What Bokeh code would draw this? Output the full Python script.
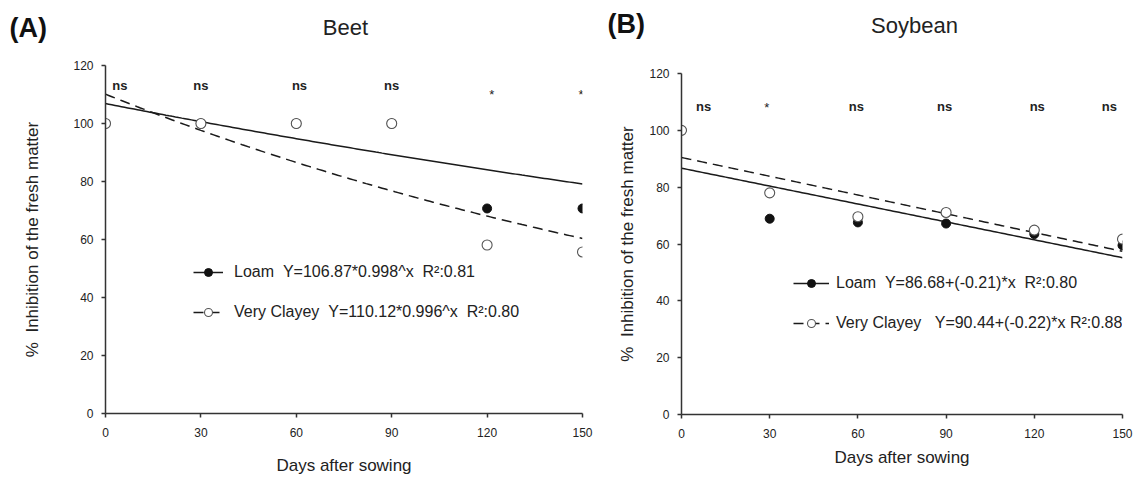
from bokeh.plotting import figure
from bokeh.layouts import row, column
from bokeh.models import Range1d, FixedTicker, Legend, LegendItem, ColumnDataSource, Spacer
from bokeh.core.properties import value
from bokeh.embed import file_html
from bokeh.resources import INLINE
import numpy as np

FONT = "Liberation Sans"
TXT = "#222222"

days = [0, 30, 60, 90, 120, 150]
x_ticks = [0, 30, 60, 90, 120, 150]
y_ticks = [0, 20, 40, 60, 80, 100, 120]

# Panel A - Beet
beet_loam = [100, 100, 100, 100, 70.7, 70.7]
beet_clay = [100, 100, 100, 100, 58.1, 55.7]
beet_loam_coef = [106.87, 0.998]   # Y = a * b^x
beet_clay_coef = [110.12, 0.996]
beet_sig = ["ns", "ns", "ns", "ns", "*", "*"]
beet_sig_x = [4.5, 30, 61, 90, 121.5, 149.5]

# Panel B - Soybean
soy_loam = [100, 68.9, 67.6, 67.2, 63.5, 59.5]
soy_clay = [100, 78.0, 69.6, 71.1, 64.9, 61.7]
soy_loam_coef = [86.68, -0.21]     # Y = a + b*x
soy_clay_coef = [90.44, -0.22]
soy_sig = ["ns", "*", "ns", "ns", "ns", "ns"]
soy_sig_x = [7.5, 29, 59.5, 89.5, 121, 145.5]

panel_titles = ["Beet", "Soybean"]
panel_letters = ["(A)", "(B)"]

xfit = np.linspace(0, 150, 151)


def make_panel(width, height, bl, br, bt, bb, loam, clay, loam_fit, clay_fit,
               sig, sig_x, ns_y, star_y, legend_labels, legend_loc, glyph_w,
               label_standoff, ylab_standoff, xlab_standoff):
    p = figure(width=width, height=height, output_backend="svg", toolbar_location=None,
               x_range=Range1d(0, 150), y_range=Range1d(0, 120),
               min_border_left=bl, min_border_right=br, min_border_top=bt,
               min_border_bottom=bb)
    p.outline_line_color = None
    p.grid.visible = False
    p.background_fill_color = "white"
    p.border_fill_color = "white"

    for ax in (p.xaxis[0], p.yaxis[0]):
        ax.axis_line_width = 1.5
        ax.axis_line_color = "#333333"
        ax.major_tick_line_color = "#333333"
        ax.major_tick_line_width = 1.5
        ax.major_tick_out = 4
        ax.major_tick_in = 0
        ax.minor_tick_line_color = None
        ax.major_label_text_font = FONT
        ax.major_label_text_font_size = "12px"
        ax.major_label_text_color = TXT
        ax.axis_label_text_font = FONT
        ax.axis_label_text_font_size = "17px"
        ax.axis_label_text_font_style = "normal"
        ax.axis_label_text_color = TXT
    p.xaxis[0].ticker = FixedTicker(ticks=x_ticks)
    p.yaxis[0].ticker = FixedTicker(ticks=y_ticks)
    p.xaxis[0].major_label_standoff = 10
    p.yaxis[0].major_label_standoff = 8
    p.xaxis[0].axis_label = "Days after sowing"
    p.yaxis[0].axis_label = "%\u00a0\u00a0Inhibition of the fresh matter"
    p.yaxis[0].axis_label_standoff = ylab_standoff
    p.xaxis[0].axis_label_standoff = xlab_standoff

    r_lfit = p.line(xfit, loam_fit, line_color="#1a1a1a", line_width=1.5)
    r_cfit = p.line(xfit, clay_fit, line_color="#1a1a1a", line_width=1.5, line_dash="10 6")
    r_lpt = p.scatter(days, loam, size=9, marker="circle", fill_color="#111111",
                      line_color="#111111")
    r_cpt = p.scatter(days, clay, size=10, marker="circle", fill_color="white",
                      line_color="#555555", line_width=1.1)

    src_ns = ColumnDataSource(dict(x=[x for x, s in zip(sig_x, sig) if s == "ns"],
                                   y=[ns_y] * sig.count("ns"),
                                   t=[s for s in sig if s == "ns"]))
    src_st = ColumnDataSource(dict(x=[x for x, s in zip(sig_x, sig) if s == "*"],
                                   y=[star_y] * sig.count("*"),
                                   t=[s for s in sig if s == "*"]))
    p.text(x="x", y="y", text="t", source=src_ns, text_font=value(FONT),
           text_font_size="13px", text_font_style="bold", text_color=TXT,
           text_align="center", text_baseline="middle")
    p.text(x="x", y="y", text="t", source=src_st, text_font=value(FONT),
           text_font_size="13px", text_color=TXT,
           text_align="center", text_baseline="middle")

    legend = Legend(items=[LegendItem(label=legend_labels[0], renderers=[r_lfit, r_lpt]),
                           LegendItem(label=legend_labels[1], renderers=[r_cfit, r_cpt])],
                    location=legend_loc, orientation="vertical",
                    background_fill_alpha=0, border_line_color=None,
                    padding=0, margin=0, spacing=20, glyph_width=glyph_w,
                    glyph_height=20, label_height=20, label_standoff=label_standoff,
                    label_text_font=FONT, label_text_font_size="16px",
                    label_text_color=TXT)
    p.add_layout(legend, "center")
    return p


beet_loam_fit = beet_loam_coef[0] * beet_loam_coef[1] ** xfit
beet_clay_fit = beet_clay_coef[0] * beet_clay_coef[1] ** xfit
soy_loam_fit = soy_loam_coef[0] + soy_loam_coef[1] * xfit
soy_clay_fit = soy_clay_coef[0] + soy_clay_coef[1] * xfit

# header with panel letters and titles
HEAD_H = 45
head = figure(width=1133, height=HEAD_H, output_backend="svg", toolbar_location=None,
              x_range=Range1d(0, 1133), y_range=Range1d(HEAD_H, 0),
              min_border=0, min_border_left=0, min_border_right=0,
              min_border_top=0, min_border_bottom=0)
head.axis.visible = False
head.grid.visible = False
head.outline_line_color = None
head.text(x=[9, 607], y=[27, 23], text=panel_letters, text_font=value(FONT),
          text_font_size="27px", text_font_style="bold", text_color="#111111",
          text_align="left", text_baseline="middle")
head.text(x=[345, 914], y=[27, 25], text=panel_titles, text_font=value(FONT),
          text_font_size="22px", text_color=TXT,
          text_align="center", text_baseline="middle")

pA = make_panel(600, 477 - HEAD_H, 105, 18, 65 - HEAD_H, 63,
                beet_loam, beet_clay, beet_loam_fit, beet_clay_fit,
                beet_sig, beet_sig_x, 113, 110,
                ["Loam\u00a0\u00a0Y=106.87*0.998^x\u00a0\u00a0R\u00b2:0.81",
                 "Very Clayey\u00a0\u00a0Y=110.12*0.996^x\u00a0\u00a0R\u00b2:0.80"],
                (88, 91), 30, 11, 28, 16)

B_TOP = 8
pB = make_panel(533, 477 - HEAD_H - B_TOP, 81, 11, 73 - HEAD_H - B_TOP, 63,
                soy_loam, soy_clay, soy_loam_fit, soy_clay_fit,
                soy_sig, soy_sig_x, 108.5, 108,
                ["Loam\u00a0\u00a0Y=86.68+(-0.21)*x\u00a0\u00a0R\u00b2:0.80",
                 "Very Clayey\u00a0\u00a0\u00a0Y=90.44+(-0.22)*x R\u00b2:0.88"],
                (112, 81), 36, 7, 9, 7)

layout = column(head, row(pA, column(Spacer(width=533, height=B_TOP), pB)))
open("out.html", "w").write(file_html(layout, INLINE))
